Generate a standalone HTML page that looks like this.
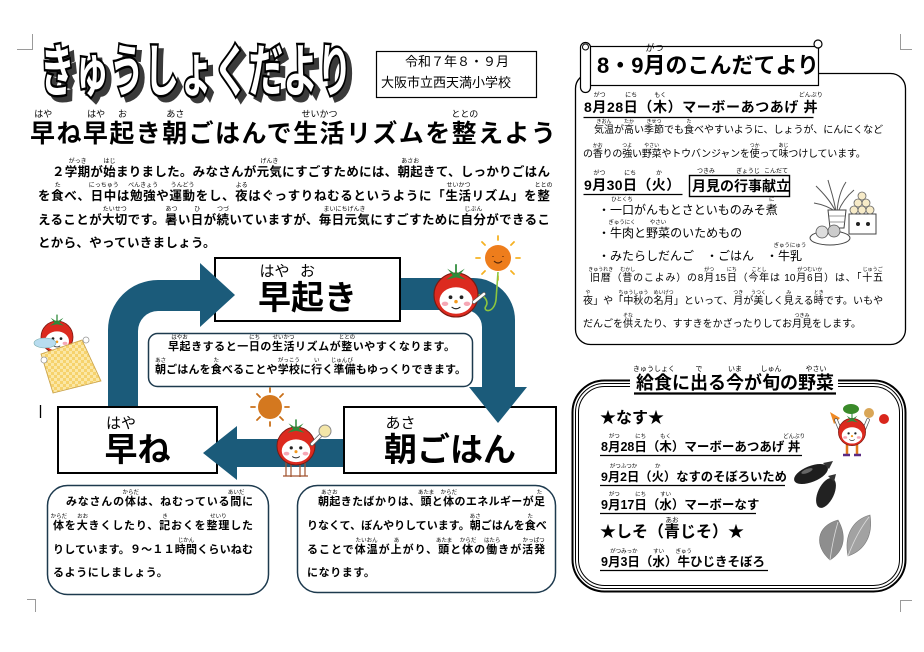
<!DOCTYPE html>
<html lang="ja">
<head>
<meta charset="utf-8">
<style>
body{margin:0;background:#fff}
#p{position:relative;width:924px;height:652px;overflow:hidden;background:#fff;font-family:"Liberation Sans","Noto Sans CJK JP",sans-serif;color:#000}
.a{position:absolute;white-space:nowrap}
.j{text-align:justify;text-align-last:justify}
.b{font-weight:bold}
.r{position:relative}
.r>i{position:absolute;left:50%;transform:translateX(-50%);bottom:calc(100% + var(--rb,0px));font-size:var(--rs,6px);line-height:1;font-style:normal;font-weight:normal;white-space:nowrap;letter-spacing:0}
svg{position:absolute;left:0;top:0}
</style>
</head>
<body>
<div id="p">
<svg width="924" height="652" viewBox="0 0 924 652">
<defs>
 <g id="tm">
  <circle r="20" fill="#dc2a1f" stroke="#7a1a12" stroke-width="1"/>
  <ellipse cx="0" cy="5" rx="15" ry="12" fill="#fff"/>
  <circle cx="-5" cy="2" r="1.7" fill="#222"/><circle cx="5" cy="2" r="1.7" fill="#222"/>
  <circle cx="0" cy="6" r="1.6" fill="#f39a1e"/>
  <ellipse cx="-10" cy="8" rx="3" ry="2" fill="#f6a7b5"/><ellipse cx="10" cy="8" rx="3" ry="2" fill="#f6a7b5"/>
  <path d="M-4 11 Q0 14 4 11" stroke="#222" stroke-width="1" fill="none"/>
  <path d="M0 -19 L-8 -24 L-3 -18 L-9 -14 L0 -16 L9 -14 L3 -18 L8 -24Z" fill="#2e8b3a"/>
  <path d="M0 -18 V-28" stroke="#2e8b3a" stroke-width="1.6"/>
 </g>
 <pattern id="chk" width="6" height="6" patternUnits="userSpaceOnUse">
  <rect width="6" height="6" fill="#f6d26c"/>
  <rect width="3" height="3" fill="#fbe7a6"/><rect x="3" y="3" width="3" height="3" fill="#fbe7a6"/>
 </pattern>
</defs>

<!-- corner marks -->
<path d="M17 49.5H32.5V34" fill="none" stroke="#9a9a9a" stroke-width="1"/>
<path d="M900.5 34V49.5H912" fill="none" stroke="#9a9a9a" stroke-width="1"/>
<path d="M27 599.5H35.5V612" fill="none" stroke="#9a9a9a" stroke-width="1"/>
<path d="M900.5 612V600.5H912" fill="none" stroke="#9a9a9a" stroke-width="1"/>
<path d="M40.5 405V418" stroke="#000" stroke-width="1.3"/>

<!-- title -->
<g font-family="'Liberation Sans','Noto Sans CJK JP',sans-serif" font-weight="bold" font-size="57">
 <text x="45" y="96" textLength="312" lengthAdjust="spacingAndGlyphs" fill="#3a3a3a" stroke="#3a3a3a" stroke-width="5">きゅうしょくだより</text>
 <text x="40" y="91" textLength="312" lengthAdjust="spacingAndGlyphs" fill="#fff" stroke="#000" stroke-width="5" paint-order="stroke">きゅうしょくだより</text>
</g>
<rect x="376.5" y="51.5" width="160" height="46" fill="none" stroke="#000" stroke-width="1.2"/>

<!-- diagram boxes -->
<rect x="215" y="258" width="185" height="63" fill="#fff" stroke="#000" stroke-width="2"/>
<rect x="58" y="407" width="159" height="66" fill="#fff" stroke="#000" stroke-width="2"/>
<rect x="344" y="407" width="212" height="66" fill="#fff" stroke="#000" stroke-width="2"/>

<!-- arrows -->
<g fill="#1b5b7a">
 <path d="M108,406 L108,330 A50,50 0 0 1 158,280 L200,280 L200,263 L235,295 L200,327 L200,311 L158,311 A20,20 0 0 0 138,331 L138,406 Z"/>
 <path d="M401,278 L473,278 A42,42 0 0 1 515,320 L515,387 L527,387 L498,423 L469,387 L482,387 L482,327 A17,17 0 0 0 465,310 L401,310 Z"/>
 <path d="M343,439 L237,439 L237,426 L203,453 L237,480 L237,467 L343,467 Z"/>
</g>

<!-- middle box and bubbles -->
<rect x="148.5" y="333.5" width="324" height="53" rx="9" fill="#fff" stroke="#1d3a4e" stroke-width="1.5"/>
<rect x="47.5" y="485.5" width="221" height="109" rx="20" fill="#fff" stroke="#1d3a4e" stroke-width="1.5"/>
<rect x="297.5" y="485.5" width="258" height="107" rx="20" fill="#fff" stroke="#1d3a4e" stroke-width="1.5"/>

<!-- top-right sun + tomato -->
<g stroke="#f5b224" stroke-width="1.8" stroke-linecap="round">
 <path d="M498 240V236M498 276V280M480 258H476M516 258H520M485 245L482 242M511 245L514 242M485 271L482 274M511 271L514 274"/>
</g>
<circle cx="498" cy="258" r="13" fill="#ee7d1c"/>
<path d="M493 256v1M503 256v1M494 261Q498 265 502 261" stroke="#5a2a0a" stroke-width="1.2" fill="none"/>
<path d="M474 298 C480 290,490 300,486 306 C482 312,494 314,496 300 L498 272" stroke="#8cc63f" stroke-width="1.6" fill="none"/>
<use href="#tm" transform="translate(456 295) scale(1.1)"/>
<path d="M474 302 L484 294" stroke="#555" stroke-width="4" stroke-linecap="round"/>
<path d="M474 302 L484 294" stroke="#fff" stroke-width="2.6" stroke-linecap="round"/>

<!-- middle sun + tomato with rice -->
<g stroke="#c9701a" stroke-width="1.8" stroke-linecap="round">
 <path d="M270 388V392M270 422V426M251 407H255M285 407H289M257 394L260 397M283 394L280 397M257 420L260 417M283 420L280 417"/>
</g>
<circle cx="270" cy="407" r="12" fill="#d4781f"/>
<path d="M286 462V476M291 462V477M300 462V477M305 462V476M283 476H308" stroke="#a0522d" stroke-width="1.2" fill="none"/>
<use href="#tm" transform="translate(296 446) scale(0.95)"/>
<path d="M312 444 L322 434" stroke="#555" stroke-width="4" stroke-linecap="round"/>
<path d="M312 444 L322 434" stroke="#fff" stroke-width="2.6" stroke-linecap="round"/>
<circle cx="325" cy="431" r="6" fill="#f4e6a8" stroke="#888" stroke-width="1"/>

<!-- sleeping tomato -->
<use href="#tm" transform="translate(57 337) scale(0.8)"/>
<ellipse cx="45" cy="343" rx="11" ry="5" fill="#b8dcef" stroke="#7aa" stroke-width="0.6"/>
<polygon points="41,354 82,340 101,381 53,393" fill="url(#chk)" stroke="#c9a24a" stroke-width="0.8"/>
<circle cx="44" cy="360" r="3" fill="#fff" stroke="#999" stroke-width="0.8"/>
<circle cx="86" cy="340" r="3" fill="#fff" stroke="#999" stroke-width="0.8"/>

<!-- right top panel -->
<rect x="575.5" y="73.5" width="330" height="271" rx="15" fill="#fff" stroke="#000" stroke-width="1.3"/>
<rect x="588.5" y="46.5" width="230" height="39" fill="#fff" stroke="#000" stroke-width="1.2"/>
<rect x="580.5" y="42.5" width="10" height="50" rx="5" fill="#fff" stroke="#000" stroke-width="1.2"/>
<circle cx="818" cy="44" r="4" fill="#fff" stroke="#000" stroke-width="1.2"/>
<circle cx="585.5" cy="47" r="3" fill="#fff" stroke="#000" stroke-width="1"/>
<path d="M583.5 117.5H813.5" stroke="#000" stroke-width="1.3"/>
<path d="M583.5 194.5H682.5" stroke="#000" stroke-width="1.3"/>
<rect x="689.5" y="175.5" width="100" height="21" fill="none" stroke="#000" stroke-width="1.4"/>

<!-- tsukimi -->
<g stroke="#555" stroke-width="1" fill="none">
 <path d="M836 212 C830 200,822 192,816 186M836 212 C834 198,830 188,828 180M837 212 C838 198,842 188,846 182M838 212 C842 202,848 195,854 190M836 212 C828 206,820 204,814 203"/>
</g>
<path d="M828 210 H846 L844 228 H830 Z" fill="#fff" stroke="#444" stroke-width="1"/>
<path d="M829 216 H845 M829 222 H845" stroke="#777" stroke-width="0.7"/>
<rect x="849" y="214" width="27" height="20" fill="#fff" stroke="#444" stroke-width="1"/>
<circle cx="858" cy="224" r="2" fill="#222"/><circle cx="868" cy="224" r="2" fill="#222"/>
<g fill="#f7ebc8" stroke="#666" stroke-width="0.8">
 <circle cx="854" cy="210" r="4"/><circle cx="862" cy="210" r="4"/><circle cx="870" cy="210" r="4"/>
 <circle cx="858" cy="203" r="4"/><circle cx="866" cy="203" r="4"/><circle cx="862" cy="196" r="4"/>
</g>
<ellipse cx="830" cy="238" rx="20" ry="7" fill="#fff" stroke="#444" stroke-width="1"/>
<circle cx="822" cy="232" r="6" fill="#ddd" stroke="#555" stroke-width="0.8"/>
<circle cx="834" cy="231" r="6" fill="#ccc" stroke="#555" stroke-width="0.8"/>

<!-- bottom right panel -->
<rect x="572.5" y="380.5" width="333" height="211" rx="32" fill="#fff" stroke="#000" stroke-width="2"/>
<rect x="575.5" y="383.5" width="327" height="205" rx="29" fill="none" stroke="#000" stroke-width="1"/>
<rect x="578.5" y="386.5" width="321" height="199" rx="26" fill="none" stroke="#000" stroke-width="1"/>
<rect x="630" y="370" width="208" height="26" fill="#fff"/>
<path d="M634 393.5H836" stroke="#000" stroke-width="2.2"/>
<g stroke="#000" stroke-width="1.3">
 <path d="M600 455.5H802M600 485.5H785M600 513.5H756M600 570.5H768"/>
</g>

<!-- juggling tomato -->
<path d="M830 412 L840 418 L834 424 Z" fill="#f08a24"/>
<ellipse cx="851" cy="409" rx="8" ry="5" fill="#3a8a2a"/>
<circle cx="869" cy="413" r="5" fill="#d9a657"/>
<circle cx="884" cy="419" r="5" fill="#d9261c"/>
<path d="M841 432 L836 420 M863 432 L868 420" stroke="#555" stroke-width="3.6" stroke-linecap="round"/>
<path d="M841 432 L836 420 M863 432 L868 420" stroke="#fff" stroke-width="2.2" stroke-linecap="round"/>
<path d="M847 444 V454 M857 444 V454" stroke="#e07a1a" stroke-width="2.5"/>
<path d="M843 455 H850 M854 455 H861" stroke="#5b2a82" stroke-width="2.5"/>
<use href="#tm" transform="translate(852 432) scale(0.68)"/>

<!-- eggplants -->
<ellipse cx="811" cy="474" rx="18" ry="8" transform="rotate(-22 811 474)" fill="#1e1e1e"/>
<path d="M823 463 L833 461 L829 469 Z" fill="#333"/>
<ellipse cx="826" cy="493" rx="8" ry="16" transform="rotate(25 826 493)" fill="#222"/>
<path d="M828 476 L836 474 L834 482 Z" fill="#333"/>
<ellipse cx="807" cy="471" rx="6" ry="2" transform="rotate(-22 807 471)" fill="#666"/>

<!-- shiso leaves -->
<path d="M830 560 C814 546,816 526,838 520 C846 534,846 550,830 560Z" fill="#8e8e8e" stroke="#777" stroke-width="0.6"/>
<path d="M848 556 C844 536,852 520,870 515 C873 534,866 550,848 556Z" fill="#a2a2a2" stroke="#777" stroke-width="0.6"/>
<path d="M830 560 C832 545,835 532,838 522M848 556 C854 540,862 526,869 517" stroke="#ddd" stroke-width="0.8" fill="none"/>
</svg>

<!-- header box text -->
<div class="a" style="left:377px;top:54px;width:160px;text-align:center;font-size:13px;line-height:16px">令和７年８・９月</div>
<div class="a" style="left:381px;top:75px;font-size:13px;line-height:16px">大阪市立西天満小学校</div>

<!-- heading -->
<div class="a j b" style="left:30px;top:119px;width:526px;font-size:25px;line-height:30px;--rs:9px;--rb:1px"><span class="r">早<i>はや</i></span>ね<span class="r">早<i>はや</i></span><span class="r">起<i>お</i></span>き<span class="r">朝<i>あさ</i></span>ごはんで<span class="r">生活<i>せいかつ</i></span>リズムを<span class="r">整<i>ととの</i></span>えよう</div>

<!-- paragraph -->
<div class="a j b" style="left:52px;top:160px;width:498px;font-size:12.5px;line-height:24px;--rs:6px">２<span class="r">学期<i>がっき</i></span>が<span class="r">始<i>はじ</i></span>まりました。みなさんが<span class="r">元気<i>げんき</i></span>にすごすためには、<span class="r">朝起<i>あさお</i></span>きて、しっかりごはん</div>
<div class="a j b" style="left:38px;top:184px;width:512px;font-size:12.5px;line-height:24px;--rs:6px">を<span class="r">食<i>た</i></span>べ、<span class="r">日中<i>にっちゅう</i></span>は<span class="r">勉強<i>べんきょう</i></span>や<span class="r">運動<i>うんどう</i></span>をし、<span class="r">夜<i>よる</i></span>はぐっすりねむるというように「<span class="r">生活<i>せいかつ</i></span>リズム」を<span class="r">整<i>ととの</i></span></div>
<div class="a j b" style="left:38px;top:208px;width:512px;font-size:12.5px;line-height:24px;--rs:6px">えることが<span class="r">大切<i>たいせつ</i></span>です。<span class="r">暑<i>あつ</i></span>い<span class="r">日<i>ひ</i></span>が<span class="r">続<i>つづ</i></span>いていますが、<span class="r">毎日元気<i>まいにちげんき</i></span>にすごすために<span class="r">自分<i>じぶん</i></span>ができるこ</div>
<div class="a b" style="left:38px;top:231px;font-size:12.5px;line-height:24px;letter-spacing:0.3px">とから、やっていきましょう。</div>

<!-- diagram box labels -->
<div class="a b" style="left:214px;top:278px;width:187px;text-align:center;font-size:33px;line-height:40px;--rs:15px"><span class="r">早<i>はや</i></span><span class="r">起<i>お</i></span>き</div>
<div class="a b" style="left:57px;top:430px;width:161px;text-align:center;font-size:33px;line-height:40px;--rs:15px"><span class="r">早<i>はや</i></span>ね</div>
<div class="a b" style="left:343px;top:430px;width:214px;text-align:center;font-size:33px;line-height:40px;--rs:15px"><span class="r">朝<i>あさ</i></span>ごはん</div>

<!-- middle box -->
<div class="a j b" style="left:168px;top:339px;width:287px;font-size:11px;line-height:16px;--rs:5.5px"><span class="r">早起<i>はやお</i></span>きすると一<span class="r">日<i>にち</i></span>の<span class="r">生活<i>せいかつ</i></span>リズムが<span class="r">整<i>ととの</i></span>いやすくなります。</div>
<div class="a j b" style="left:155px;top:362px;width:311px;font-size:11px;line-height:16px;--rs:5.5px"><span class="r">朝<i>あさ</i></span>ごはんを<span class="r">食<i>た</i></span>べることや<span class="r">学校<i>がっこう</i></span>に<span class="r">行<i>い</i></span>く<span class="r">準<i>じゅん</i></span><span class="r">備<i>び</i></span>もゆっくりできます。</div>

<!-- left bubble -->
<div class="a j b" style="left:66px;top:492px;width:187px;font-size:11px;line-height:20px;--rs:5.5px">みなさんの<span class="r">体<i>からだ</i></span>は、ねむっている<span class="r">間<i>あいだ</i></span>に</div>
<div class="a j b" style="left:53px;top:516px;width:200px;font-size:11px;line-height:20px;--rs:5.5px"><span class="r">体<i>からだ</i></span>を<span class="r">大<i>おお</i></span>きくしたり、<span class="r">記<i>き</i></span>おくを<span class="r">整理<i>せいり</i></span>した</div>
<div class="a j b" style="left:53px;top:540px;width:200px;font-size:11px;line-height:20px;--rs:5.5px">りしています。９～１１<span class="r">時間<i>じかん</i></span>くらいねむ</div>
<div class="a b" style="left:53px;top:563px;font-size:11px;line-height:20px;letter-spacing:0.6px">るようにしましょう。</div>

<!-- right bubble -->
<div class="a j b" style="left:318px;top:492px;width:227px;font-size:11px;line-height:20px;--rs:5.5px"><span class="r">朝起<i>あさお</i></span>きたばかりは、<span class="r">頭<i>あたま</i></span>と<span class="r">体<i>からだ</i></span>のエネルギーが<span class="r">足<i>た</i></span></div>
<div class="a j b" style="left:307px;top:516px;width:238px;font-size:11px;line-height:20px;--rs:5.5px">りなくて、ぼんやりしています。<span class="r">朝<i>あさ</i></span>ごはんを<span class="r">食<i>た</i></span>べ</div>
<div class="a j b" style="left:307px;top:540px;width:238px;font-size:11px;line-height:20px;--rs:5.5px">ることで<span class="r">体温<i>たいおん</i></span>が<span class="r">上<i>あ</i></span>がり、<span class="r">頭<i>あたま</i></span>と<span class="r">体<i>からだ</i></span>の<span class="r">働<i>はたら</i></span>きが<span class="r">活発<i>かっぱつ</i></span></div>
<div class="a b" style="left:307px;top:563px;font-size:11px;line-height:20px;letter-spacing:0.6px">になります。</div>

<!-- right top panel text -->
<div class="a j b" style="left:597px;top:52px;width:203px;font-size:22px;line-height:28px;--rs:9px">8・9<span class="r">月<i>がつ</i></span>のこんだてより</div>
<div class="a b" style="left:584px;top:97px;font-size:14px;line-height:20px;letter-spacing:0.6px;--rs:6px">8<span class="r">月<i>がつ</i></span>28<span class="r">日<i>にち</i></span>（<span class="r">木<i>もく</i></span>）マーボーあつあげ <span class="r">丼<i>どんぶり</i></span></div>
<div class="a j" style="left:594px;top:124px;width:289px;font-size:10px;line-height:14px;--rs:5px"><span class="r">気温<i>きおん</i></span>が<span class="r">高<i>たか</i></span>い<span class="r">季節<i>きせつ</i></span>でも<span class="r">食<i>た</i></span>べやすいように、しょうが、にんにくなど</div>
<div class="a" style="left:583px;top:148px;font-size:10px;line-height:14px;letter-spacing:-0.2px;--rs:5px">の<span class="r">香<i>かお</i></span>りの<span class="r">強<i>つよ</i></span>い<span class="r">野菜<i>やさい</i></span>やトウバンジャンを<span class="r">使<i>つか</i></span>って<span class="r">味<i>あじ</i></span>つけしています。</div>

<div class="a b" style="left:584px;top:175px;font-size:14px;line-height:20px;letter-spacing:0.4px;--rs:6px">9<span class="r">月<i>がつ</i></span>30<span class="r">日<i>にち</i></span>（<span class="r">火<i>か</i></span>）</div>
<div class="a j b" style="left:692px;top:176px;width:94px;font-size:14px;line-height:20px;--rs:6px;--rb:3px"><span class="r">月見<i>つきみ</i></span>の<span class="r">行事<i>ぎょうじ</i></span><span class="r">献立<i>こんだて</i></span></div>

<div class="a" style="left:598px;top:201px;font-size:12px;line-height:18px;--rs:5.5px">・<span class="r">一口<i>ひとくち</i></span>がんもとさといものみそ<span class="r">煮<i>に</i></span></div>
<div class="a" style="left:598px;top:224px;font-size:12px;line-height:18px;--rs:5.5px">・<span class="r">牛肉<i>ぎゅうにく</i></span>と<span class="r">野菜<i>やさい</i></span>のいためもの</div>
<div class="a" style="left:598px;top:247px;font-size:12px;line-height:18px;--rs:5.5px">・みたらしだんご　・ごはん　・<span class="r">牛乳<i>ぎゅうにゅう</i></span></div>

<div class="a j" style="left:590px;top:272px;width:293px;font-size:10px;line-height:14px;--rs:5px"><span class="r">旧暦<i>きゅうれき</i></span>（<span class="r">昔<i>むかし</i></span>のこよみ）の8<span class="r">月<i>がつ</i></span>15<span class="r">日<i>にち</i></span>（<span class="r">今年<i>ことし</i></span>は 10<span class="r">月6日<i>がつむいか</i></span>）は、「<span class="r">十五<i>じゅうご</i></span></div>
<div class="a j" style="left:583px;top:295px;width:300px;font-size:10px;line-height:14px;--rs:5px"><span class="r">夜<i>や</i></span>」や「<span class="r">中秋<i>ちゅうしゅう</i></span>の<span class="r">名月<i>めいげつ</i></span>」といって、<span class="r">月<i>つき</i></span>が<span class="r">美<i>うつく</i></span>しく<span class="r">見<i>み</i></span>える<span class="r">時<i>とき</i></span>です。いもや</div>
<div class="a" style="left:583px;top:318px;font-size:10px;line-height:14px;--rs:5px">だんごを<span class="r">供<i>そな</i></span>えたり、すすきをかざったりしてお<span class="r">月見<i>つきみ</i></span>をします。</div>

<!-- bottom right panel text -->
<div class="a j b" style="left:636px;top:371px;width:198px;font-size:18px;line-height:24px;--rs:7px"><span class="r">給食<i>きゅうしょく</i></span>に<span class="r">出<i>で</i></span>る<span class="r">今<i>いま</i></span>が<span class="r">旬<i>しゅん</i></span>の<span class="r">野菜<i>やさい</i></span></div>
<div class="a b" style="left:600px;top:409px;font-size:16px;line-height:20px">★なす★</div>
<div class="a b" style="left:601px;top:438px;font-size:12.5px;line-height:18px;--rs:5.5px">8<span class="r">月<i>がつ</i></span>28<span class="r">日<i>にち</i></span>（<span class="r">木<i>もく</i></span>）マーボーあつあげ <span class="r">丼<i>どんぶり</i></span></div>
<div class="a b" style="left:601px;top:468px;font-size:12.3px;line-height:18px;--rs:5.5px">9<span class="r">月2日<i>がつふつか</i></span>（<span class="r">火<i>か</i></span>）なすのそぼろいため</div>
<div class="a b" style="left:601px;top:496px;font-size:12.5px;line-height:18px;--rs:5.5px">9<span class="r">月<i>がつ</i></span>17<span class="r">日<i>にち</i></span>（<span class="r">水<i>すい</i></span>）マーボーなす</div>
<div class="a b" style="left:600px;top:523px;font-size:16px;line-height:20px;--rs:6.5px">★しそ（<span class="r">青<i>あお</i></span>じそ）★</div>
<div class="a b" style="left:601px;top:553px;font-size:12.5px;line-height:18px;--rs:5.5px">9<span class="r">月3日<i>がつみっか</i></span>（<span class="r">水<i>すい</i></span>）<span class="r">牛<i>ぎゅう</i></span>ひじきそぼろ</div>

</div>
</body>
</html>
